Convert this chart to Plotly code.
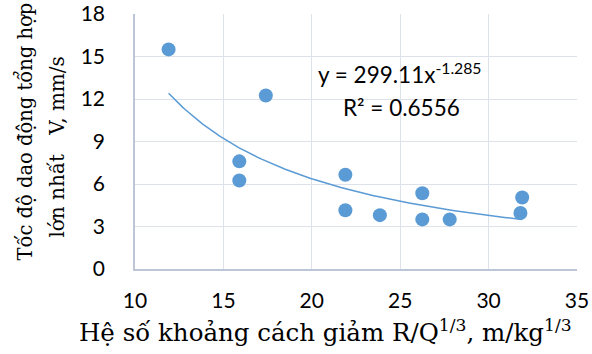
import numpy as np
import plotly.graph_objects as go

# Data
x_vals = [11.9, 17.4, 15.9, 15.9, 21.9, 21.9, 23.85, 26.25, 26.25, 27.8, 31.9, 31.8]
y_vals = [15.5, 12.25, 7.6, 6.25, 6.65, 4.15, 3.8, 5.35, 3.5, 3.5, 5.05, 3.95]

# Power trendline coefficients as printed on the chart
coef_a = 299.11
coef_b = -1.285
r2_text = "R² = 0.6556"
eq_text = "y = 299.11x<sup>-1.285</sup>"

x_ticks = [10, 15, 20, 25, 30, 35]
y_ticks = [0, 3, 6, 9, 12, 15, 18]

x_title = "Hệ số khoảng cách giảm R/Q<sup>1/3</sup>, m/kg<sup>1/3</sup>"
y_title_1 = "Tốc độ dao động tổng hợp"
y_title_2 = "lớn nhất\u00a0\u00a0\u00a0V, mm/s"

xt = np.linspace(min(x_vals), max(x_vals), 200)
yt = coef_a * xt ** coef_b

blue = "#5b9bd5"
grid = "#dde2ea"
axis_c = "#bcc6d6"
tick_font = dict(family="Lato, Liberation Sans, sans-serif", size=21, color="#000000")
serif = "DejaVu Serif, Liberation Serif, serif"
ann_font = dict(family="Lato, Liberation Sans, sans-serif", size=22.5, color="#000")

fig = go.Figure()
fig.add_trace(go.Scatter(x=xt, y=yt, mode="lines", line=dict(color=blue, width=1.5),
                         hoverinfo="skip", showlegend=False))
fig.add_trace(go.Scatter(x=x_vals, y=y_vals, mode="markers",
                         marker=dict(color=blue, size=14, line=dict(width=0)),
                         showlegend=False))

fig.add_annotation(x=25.0, y=13.83, text=eq_text, showarrow=False, font=ann_font,
                   xanchor="center", yanchor="middle")
fig.add_annotation(x=25.1, y=11.43, text=r2_text, showarrow=False, font=ann_font,
                   xanchor="center", yanchor="middle")

# axis titles
fig.add_annotation(xref="paper", yref="paper", x=0.432, y=-0.243, text=x_title,
                   showarrow=False, xanchor="center", yanchor="middle",
                   font=dict(family=serif, size=24.5, color="#000"))
fig.add_annotation(xref="paper", yref="paper", x=-0.2489, y=0.539, text=y_title_1,
                   showarrow=False, xanchor="center", yanchor="middle", textangle=-90,
                   font=dict(family=serif, size=19.5, color="#000"))
fig.add_annotation(xref="paper", yref="paper", x=-0.1765, y=0.48, text=y_title_2,
                   showarrow=False, xanchor="center", yanchor="middle", textangle=-90,
                   font=dict(family=serif, size=20, color="#000"))

fig.update_layout(
    width=592, height=354,
    margin=dict(l=135, r=15, t=14, b=85),
    paper_bgcolor="white", plot_bgcolor="white",
    xaxis=dict(range=[10, 35], tickvals=x_ticks, showgrid=True, gridcolor=grid, gridwidth=1,
               zeroline=False, showline=True, linecolor=axis_c, linewidth=1.5,
               tickfont=tick_font, ticks="", ticklabelstandoff=12, automargin=False,
               ticklabeloverflow="allow"),
    yaxis=dict(range=[0, 18], tickvals=y_ticks, showgrid=True, gridcolor=grid, gridwidth=1,
               zeroline=False, showline=True, linecolor=axis_c, linewidth=1.5,
               tickfont=tick_font, ticks="", ticklabelstandoff=24, automargin=False,
               ticklabeloverflow="allow"),
)

# remove the browser's default 8px body margin so the figure fills the window
fig.write_html("out.html", config={"displayModeBar": False},
               post_script="document.body.style.margin='0';")
